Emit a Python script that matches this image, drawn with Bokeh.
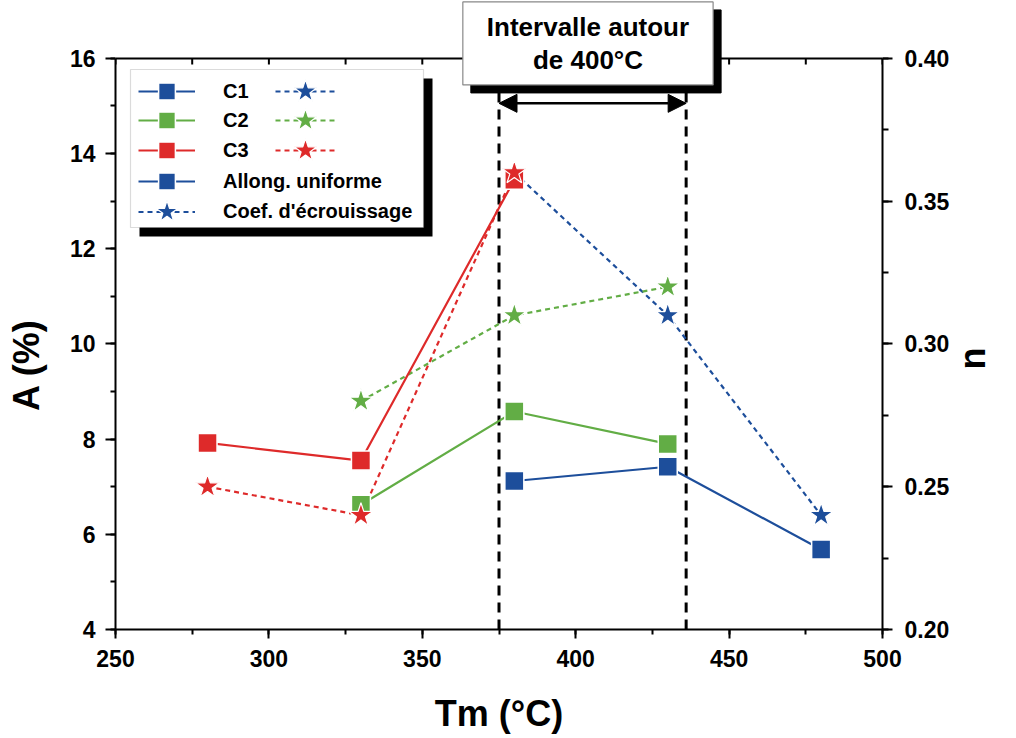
import math
from bokeh.plotting import figure
from bokeh.models import (Range1d, LinearAxis, SingleIntervalTicker, PrintfTickFormatter,
                          Legend, LegendItem, Span, Arrow, NormalHead, Label, BoxAnnotation)
from bokeh.embed import file_html
from bokeh.resources import INLINE

# ---------------- data ----------------
tm_c1 = [380, 430, 480]
A_c1 = [7.12, 7.42, 5.68]
n_c1 = [0.36, 0.31, 0.24]

tm_c2 = [330, 380, 430]
A_c2 = [6.62, 8.58, 7.90]
n_c2 = [0.28, 0.31, 0.32]

tm_c3 = [280, 330, 380]
A_c3 = [7.92, 7.55, 13.45]
n_c3 = [0.25, 0.24, 0.36]

series_names = ["C1", "C2", "C3"]
series_colors = ["#1d4e9b", "#62ad45", "#de2a2a"]

interval = [375, 436]
interval_text = "Intervalle autour\nde 400°C"
legend_extra = ["Allong. uniforme", "Coef. d'écrouissage"]

NBSP = "\u00a0"
x_label = "Tm (°C)"
yl_label = "A (%)"
yr_label = "n"

x_lim = (250, 500)
a_lim = (4, 16)
n_lim = (0.20, 0.40)
top_ticks = [250, 275, 300, 325, 350, 375, 400, 425, 450, 475, 500]

FONT = "Liberation Sans"

# ---------------- layout constants (pixels) ----------------
W, H = 1016, 736
FL, FR, FT, FB = 115, 883, 58, 630          # plot box in page pixels
px_per_a = (FB - FT) / (a_lim[1] - a_lim[0])
extra_a = FT / px_per_a                       # frame reaches the top of the canvas
a_top = a_lim[1] + extra_a
n_top = n_lim[1] + extra_a * (n_lim[1] - n_lim[0]) / (a_lim[1] - a_lim[0])

# ---------------- figure ----------------
p = figure(width=W, height=H, x_range=Range1d(*x_lim), y_range=Range1d(a_lim[0], a_top),
           output_backend="svg", toolbar_location=None,
           min_border_left=FL, min_border_right=W - FR, min_border_top=0,
           min_border_bottom=H - FB,
           x_axis_label=x_label, y_axis_label=yl_label + NBSP * 10)
p.extra_y_ranges = {"n": Range1d(n_lim[0], n_top)}
p.xgrid.visible = False
p.ygrid.visible = False
p.outline_line_color = None
p.background_fill_color = "white"
p.border_fill_color = "white"

p.xaxis.ticker = SingleIntervalTicker(interval=50, num_minor_ticks=2)
p.yaxis.ticker = SingleIntervalTicker(interval=2, num_minor_ticks=2)
p.yaxis.bounds = a_lim

right_axis = LinearAxis(y_range_name="n", axis_label=yr_label, bounds=n_lim,
                        ticker=SingleIntervalTicker(interval=0.05, num_minor_ticks=2),
                        formatter=PrintfTickFormatter(format="%.2f"))
p.add_layout(right_axis, "right")


def style_axis(ax, tick_out=10, minor_out=5):
    ax.axis_line_width = 2
    ax.axis_line_color = "black"
    ax.major_tick_line_width = 2
    ax.minor_tick_line_width = 2
    ax.major_tick_line_color = "black"
    ax.minor_tick_line_color = "black"
    ax.major_tick_out = tick_out
    ax.major_tick_in = 0
    ax.minor_tick_out = minor_out
    ax.minor_tick_in = 0
    ax.major_label_text_font = FONT
    ax.major_label_text_font_style = "bold"
    ax.major_label_text_font_size = "23px"
    ax.major_label_text_color = "black"
    ax.axis_label_text_font = FONT
    ax.axis_label_text_font_style = "bold"
    ax.axis_label_text_font_size = "36px"
    ax.axis_label_text_color = "black"


for ax in p.xaxis:
    style_axis(ax, tick_out=9, minor_out=5)
    ax.major_label_standoff = 11
    ax.axis_label_standoff = 23
for ax in p.yaxis:
    if ax is not right_axis:
        style_axis(ax, tick_out=10, minor_out=5)
        ax.major_label_standoff = 10
        ax.axis_label_standoff = 20
style_axis(right_axis, tick_out=10, minor_out=6)
right_axis.major_label_standoff = 12
right_axis.axis_label_standoff = 20
_props = right_axis.properties()
if "axis_label_orientation" in _props:
    right_axis.axis_label_orientation = math.pi / 2
if "axis_label_align" in _props:
    right_axis.axis_label_align = "start"
    right_axis.axis_label = NBSP * 26 + yr_label

# top spine with inward ticks
p.add_layout(Span(location=a_lim[1], dimension="width", line_color="black", line_width=2))
p.ray(x=top_ticks, y=[a_lim[1]] * len(top_ticks), length=6, length_units="screen",
      angle=-math.pi / 2, line_color="black", line_width=2)

# ---------------- data renderers ----------------
xs = [tm_c1, tm_c2, tm_c3]
As = [A_c1, A_c2, A_c3]
ns = [n_c1, n_c2, n_c3]

# interval lines (behind the data)
p.segment(x0=interval, y0=[a_lim[0]] * 2, x1=interval, y1=[a_lim[1]] * 2,
          line_color="black", line_width=3, line_dash="10 7")

a_lines, n_lines, squares, stars = [], [], [], []
for x, a, n, c in zip(xs, As, ns, series_colors):
    a_lines.append(p.line(x, a, line_color=c, line_width=2.2))
    n_lines.append(p.line(x, n, y_range_name="n", line_color=c, line_width=2.2, line_dash="5 4"))
for x, a, n, c in zip(xs, As, ns, series_colors):
    squares.append(p.scatter(x, a, marker="square", size=19, fill_color=c,
                             line_color="white", line_width=1.5))
    stars.append(p.scatter(x, n, y_range_name="n", marker="star", size=25, fill_color=c,
                           line_color="white", line_width=1.2))

# ---------------- interval annotation ----------------
arrow_y = a_lim[1] - (103 - FT) / px_per_a
p.add_layout(Arrow(x_start=interval[0], x_end=interval[1], y_start=arrow_y, y_end=arrow_y,
                   line_color="black", line_width=2.5,
                   start=NormalHead(size=18, fill_color="black", line_color="black"),
                   end=NormalHead(size=18, fill_color="black", line_color="black")))

box_y = a_lim[1] + (FT - 43) / px_per_a
lab_kw = dict(x=404, y=box_y, x_units="data", y_units="data", text=interval_text,
              text_align="center", text_baseline="middle", text_font=FONT,
              text_font_style="bold", text_font_size="26px", text_line_height=1.1,
              padding=(24, 10))
p.add_layout(Label(x_offset=8, y_offset=-8, text_color="black", background_fill_color="black",
                   border_line_color="black", **lab_kw))
p.add_layout(Label(text_color="black", background_fill_color="white",
                   border_line_color="#888888", border_line_width=1.2, **lab_kw))

# ---------------- legend ----------------
def sbox(l, r, t, b, **kw):
    return BoxAnnotation(left=l - FL, right=r - FL, top=FB - t, bottom=FB - b,
                         left_units="screen", right_units="screen",
                         top_units="screen", bottom_units="screen", fill_alpha=1, **kw)


p.add_layout(sbox(139, 432, 79, 237, fill_color="black", line_color=None))
p.add_layout(sbox(130, 423, 70, 228, fill_color="white", line_color="#888888", line_width=1.2))

row_centers = [92, 121, 151, 182, 212]


def one_legend(item, gx, cy, gw, gh):
    return Legend(items=[item], location=(gx - FL, FB - (cy + gh / 2)),
                  orientation="vertical", glyph_width=gw, glyph_height=gh,
                  spacing=0, padding=0, margin=0, label_standoff=28, label_height=20,
                  label_text_font=FONT, label_text_font_style="bold",
                  label_text_font_size="20px", label_text_color="black",
                  border_line_alpha=0, background_fill_alpha=0)


items_a = [LegendItem(label=nm, renderers=[a_lines[i], squares[i]])
           for i, nm in enumerate(series_names)]
items_a.append(LegendItem(label=legend_extra[0], renderers=[a_lines[0], squares[0]]))
items_a.append(LegendItem(label=legend_extra[1], renderers=[n_lines[0], stars[0]]))
for k, it in enumerate(items_a):
    p.add_layout(one_legend(it, 138, row_centers[k], 57, 57 if k == 4 else 42))
for i in range(3):
    it = LegendItem(label=" ", renderers=[n_lines[i], stars[i]])
    p.add_layout(one_legend(it, 275, row_centers[i], 60, 60))

open("out.html", "w").write(file_html(p, INLINE))
